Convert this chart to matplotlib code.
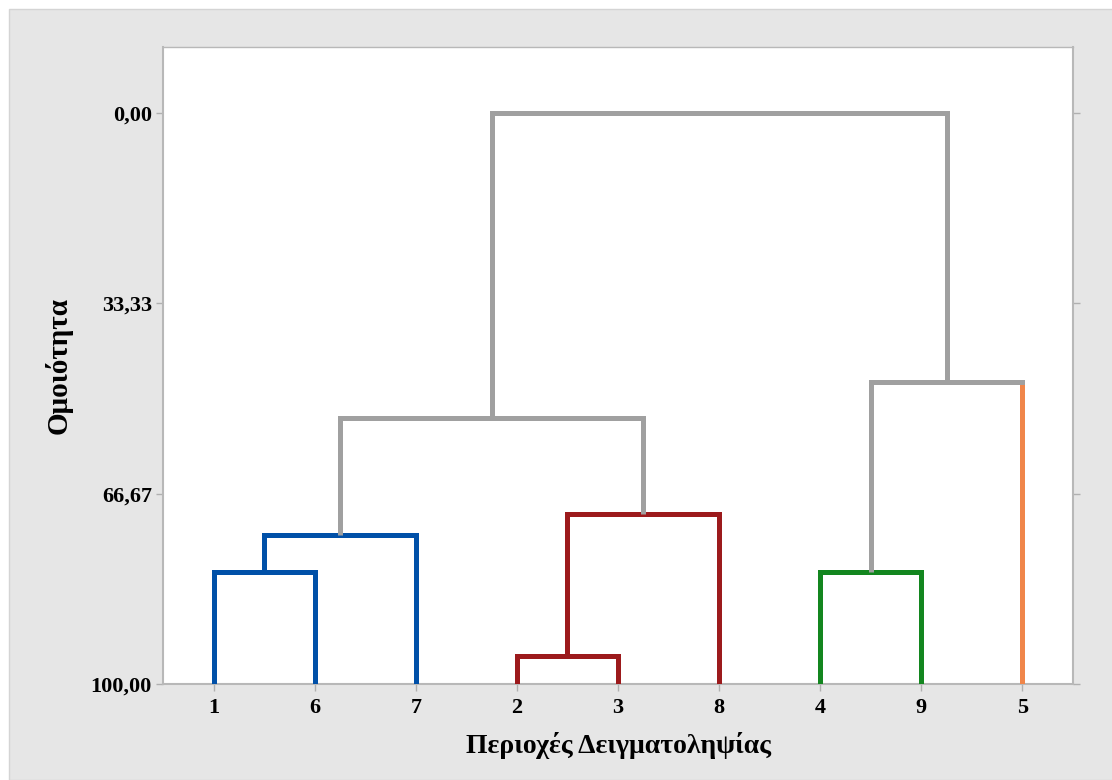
import matplotlib.pyplot as plt
from matplotlib.patches import Rectangle

# ── Data ──────────────────────────────────────────────────────────────────────
leaves = ["1", "6", "7", "2", "3", "8", "4", "9", "5"]
leaf_colors = ["#0050a8", "#0050a8", "#0050a8", "#9c1a1c", "#9c1a1c", "#9c1a1c",
               "#13861f", "#13861f", "#f0864a"]
# merges: (child a, child b, similarity, colour); new clusters get ids 9, 10, ...
merge_a = [0, 9, 3, 11, 6, 13, 10, 15]
merge_b = [1, 2, 4, 5, 7, 8, 12, 14]
merge_sim = [80.4, 73.9, 95.1, 70.2, 80.4, 47.1, 53.4, 0.0]
merge_col = ["#0050a8", "#0050a8", "#9c1a1c", "#9c1a1c", "#13861f",
             "#a0a0a0", "#a0a0a0", "#a0a0a0"]
yticks = [0.0, 33.33, 66.67, 100.0]
ytick_labels = ["0,00", "33,33", "66,67", "100,00"]

# ── Plot ──────────────────────────────────────────────────────────────────────
fig = plt.figure(figsize=(11.12, 7.8), dpi=100)
fig.patch.set_facecolor("white")
fig.patches.append(Rectangle((9 / 1112, 0), 1, 1 - 9 / 780, transform=fig.transFigure,
                             facecolor="#e6e6e6", edgecolor="#d4d4d4", lw=1,
                             zorder=-10))

ax = fig.add_axes([163 / 1112, 1 - 684 / 780, (1073 - 163) / 1112, (684 - 47) / 780])
ax.set_facecolor("white")

n = len(leaves)
xpos = {i: i + 1 for i in range(n)}
ypos = {i: 100.0 for i in range(n)}
lw = 3.6
for k, (a, b, s, c) in enumerate(zip(merge_a, merge_b, merge_sim, merge_col)):
    for ch in (a, b):
        col = leaf_colors[ch] if ch < n else c
        ax.plot([xpos[ch], xpos[ch]], [ypos[ch], s], color=col, lw=lw,
                solid_capstyle="butt", zorder=3)
    ax.plot([xpos[a], xpos[b]], [s, s], color=c, lw=lw,
            solid_capstyle="projecting", zorder=3)
    xpos[n + k] = (xpos[a] + xpos[b]) / 2
    ypos[n + k] = s

ax.set_xlim(0.5, n + 0.5)
ax.set_ylim(100, -11.6)
ax.set_xticks(range(1, n + 1))
ax.set_xticklabels(leaves)
ax.set_yticks(yticks)
ax.set_yticklabels(ytick_labels)

font = dict(family="Liberation Serif", weight="bold")
for lab in ax.get_xticklabels() + ax.get_yticklabels():
    lab.set_fontfamily("Liberation Serif")
    lab.set_fontweight("bold")
    lab.set_fontsize(16)
ax.tick_params(axis="both", direction="out", length=5, width=1, color="#b0b0b0",
               pad=3)
ax.tick_params(axis="x", pad=5)
ax.tick_params(axis="y", right=True)

for sp in ax.spines.values():
    sp.set_color("#b8b8b8")
    sp.set_linewidth(1.5)
ax.spines["top"].set_linewidth(1)

ax.set_xlabel("Περιοχές Δειγματοληψίας", fontsize=20, labelpad=10, **font)
ax.set_ylabel("Ομοιότητα", fontsize=21, labelpad=13, **font)

fig.savefig("out.png", dpi=100, facecolor=fig.get_facecolor())
